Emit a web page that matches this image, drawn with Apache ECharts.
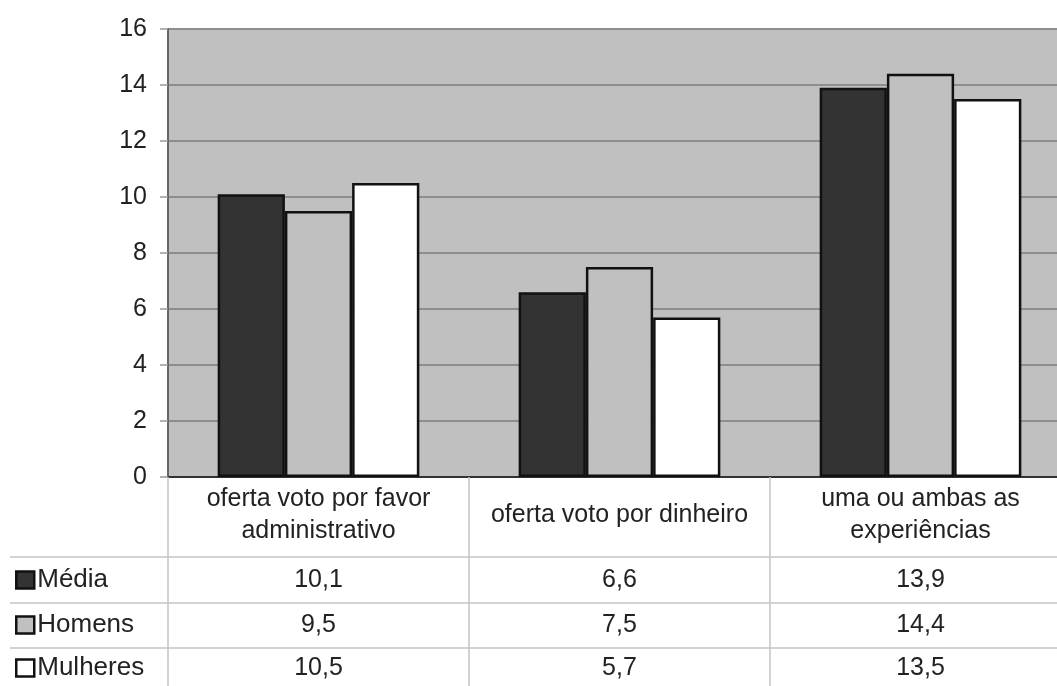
<!DOCTYPE html>
<html>
<head>
<meta charset="utf-8">
<script src="https://cdn.jsdelivr.net/npm/echarts@6/dist/echarts.min.js"></script>
<style>
  html, body { margin: 0; padding: 0; background: #fff; overflow: hidden; }
  /* the plot's last column runs a little past the right edge of the window */
  #chart { width: 1071px; height: 686px; }
</style>
</head>
<body>
<div id="chart"></div>
<script>
// Categories and series values
const categories = [
  'oferta voto por favor\nadministrativo',
  'oferta voto por dinheiro',
  'uma ou ambas as\nexperiências'
];
const seriesNames = ['Média', 'Homens', 'Mulheres'];
const media = [10.1, 6.6, 13.9];
const homens = [9.5, 7.5, 14.4];
const mulheres = [10.5, 5.7, 13.5];
const yTicks = { min: 0, max: 16, step: 2 };

const FONT = '"Liberation Sans", Arial, sans-serif';
const fmt = v => String(v).replace('.', ',');

// Grid geometry
const G = { left: 168, top: 29, right: 0, bottom: 686 - 477 };
const axisY = 477;
const rowTop = [557, 603, 648];      // table row separators
const rowMid = [580, 625, 668];      // vertical centres of the table rows

// One x axis per table row, printing that row's values under each category
function rowAxis(values, r) {
  return {
    type: 'category',
    data: categories,
    position: 'bottom',
    offset: rowTop[r] - axisY,
    axisLine: { show: false },
    axisTick: { show: false },
    axisLabel: {
      interval: 0,
      margin: rowMid[r] - rowTop[r],
      verticalAlign: 'middle',
      fontFamily: FONT,
      fontSize: 25,
      color: '#222',
      formatter: (val, idx) => fmt(values[idx])
    }
  };
}

const barBorder = { borderColor: '#111', borderWidth: 2.5 };
const fills = ['#333333', '#c0c0c0', '#ffffff'];

// One legend per row so each key sits beside its own table row
const legends = seriesNames.map((name, r) => ({
  orient: 'vertical',
  left: 15,
  top: rowMid[r] - 13,
  padding: 0,
  itemWidth: 18,
  itemHeight: 17,
  icon: 'rect',
  selectedMode: false,
  textStyle: { fontFamily: FONT, fontSize: 26, lineHeight: 26, color: '#222', padding: [0, 0, 0, -2] },
  itemStyle: { borderColor: '#111', borderWidth: 2.5 },
  data: [name]
}));

const option = {
  animation: false,
  backgroundColor: '#fff',
  grid: {
    left: G.left, top: G.top, right: G.right, bottom: G.bottom,
    show: true, backgroundColor: '#c0c0c0', borderWidth: 0
  },
  legend: legends,
  xAxis: [
    {
      type: 'category',
      data: categories,
      position: 'bottom',
      axisLine: { show: true, lineStyle: { color: '#333', width: 2 } },
      axisTick: { show: true, interval: 0, length: 210, lineStyle: { color: '#c4c4c4', width: 1.5 } },
      axisLabel: {
        interval: 0, margin: 38, verticalAlign: 'middle',
        fontFamily: FONT, fontSize: 25, lineHeight: 32, color: '#222', align: 'center'
      }
    },
    rowAxis(media, 0),
    rowAxis(homens, 1),
    rowAxis(mulheres, 2)
  ],
  yAxis: {
    type: 'value',
    min: yTicks.min, max: yTicks.max, interval: yTicks.step,
    axisLine: { show: true, lineStyle: { color: '#666', width: 2 } },
    axisTick: { show: true, length: 8, lineStyle: { color: '#999', width: 1.5 } },
    axisLabel: { fontFamily: FONT, fontSize: 25, color: '#222', margin: 21 },
    splitLine: { show: true, lineStyle: { color: '#8e8e8e', width: 2 } }
  },
  series: [
    { name: seriesNames[0], type: 'bar', data: media, barGap: '0%', barCategoryGap: '33%',
      itemStyle: Object.assign({ color: fills[0] }, barBorder) },
    { name: seriesNames[1], type: 'bar', data: homens,
      itemStyle: Object.assign({ color: fills[1] }, barBorder) },
    { name: seriesNames[2], type: 'bar', data: mulheres,
      itemStyle: Object.assign({ color: fills[2] }, barBorder) }
  ],
  // Horizontal rules of the data table
  graphic: rowTop.map(y => ({
    type: 'line',
    shape: { x1: 10, y1: y, x2: 1071, y2: y },
    style: { stroke: '#c4c4c4', lineWidth: 1.5 },
    silent: true
  }))
};

const chart = echarts.init(document.getElementById('chart'), null, { renderer: 'canvas' });
chart.setOption(option);
</script>
</body>
</html>
